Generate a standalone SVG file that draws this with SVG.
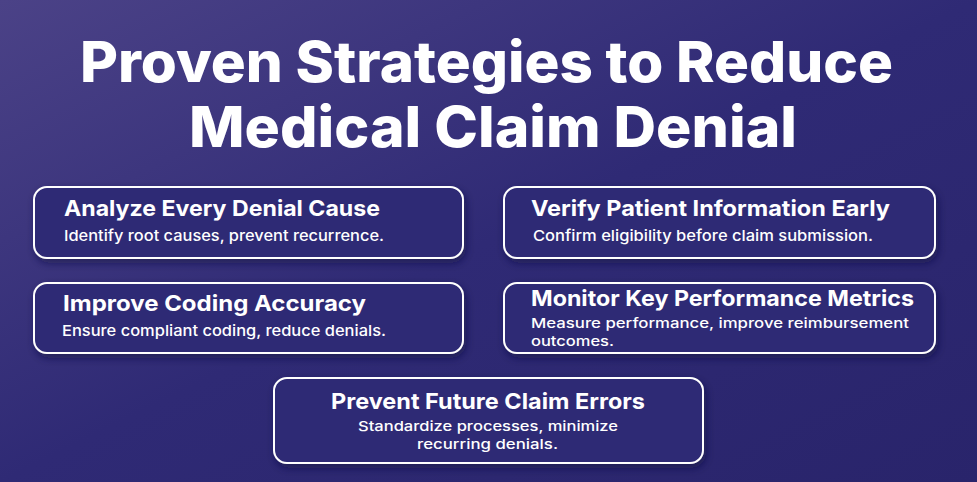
<svg xmlns="http://www.w3.org/2000/svg" width="977" height="482" viewBox="0 0 977 482">
<defs>
<linearGradient id="bg" x1="0" y1="0" x2="1" y2="1">
<stop offset="0" stop-color="#4b4287"/>
<stop offset="0.5" stop-color="#2f2a75"/>
<stop offset="1" stop-color="#29246b"/>
</linearGradient>
<filter id="sh" x="-10%" y="-20%" width="120%" height="150%"><feDropShadow dx="2" dy="4" stdDeviation="4" flood-color="#15123f" flood-opacity="0.6"/></filter>
</defs>
<style>
.box{fill:#2e2974;stroke:#ffffff;stroke-width:2;filter:url(#sh)}
.t{font-family:Inter,"Open Sans",sans-serif;font-weight:700;fill:#fff;font-size:22px}
.s{font-family:Inter,"Open Sans",sans-serif;font-weight:500;fill:#fff;font-size:15px}
.s2{font-family:Inter,"Open Sans",sans-serif;font-weight:500;fill:#fff;font-size:13.5px}
.h{font-family:Inter,"Open Sans",sans-serif;font-weight:800;fill:#fff;font-size:56px}
</style>
<rect width="977" height="482" fill="url(#bg)"/>
<text class="h" x="80" y="82" textLength="813" lengthAdjust="spacingAndGlyphs">Proven Strategies to Reduce</text>
<text class="h" x="189" y="147" textLength="608" lengthAdjust="spacingAndGlyphs">Medical Claim Denial</text>
<g id="n1"><rect class="box" x="34" y="187" width="429" height="71" rx="13"/>
<text class="t" x="64" y="216" textLength="316" lengthAdjust="spacingAndGlyphs">Analyze Every Denial Cause</text>
<text class="s" x="64" y="241" textLength="320" lengthAdjust="spacingAndGlyphs">Identify root causes, prevent recurrence.</text></g>
<g id="n2"><rect class="box" x="504" y="187" width="431" height="71" rx="13"/>
<text class="t" x="531" y="216" textLength="359" lengthAdjust="spacingAndGlyphs">Verify Patient Information Early</text>
<text class="s" x="533" y="241" textLength="340" lengthAdjust="spacingAndGlyphs">Confirm eligibility before claim submission.</text></g>
<g id="n3"><rect class="box" x="34" y="283" width="429" height="70" rx="13"/>
<text class="t" x="63" y="311" textLength="303" lengthAdjust="spacingAndGlyphs">Improve Coding Accuracy</text>
<text class="s" x="62" y="336" textLength="324" lengthAdjust="spacingAndGlyphs">Ensure compliant coding, reduce denials.</text></g>
<g id="n4"><rect class="box" x="504" y="283" width="431" height="70" rx="13"/>
<text class="t" x="531" y="306" textLength="383" lengthAdjust="spacingAndGlyphs">Monitor Key Performance Metrics</text>
<text class="s2" x="531" y="328" textLength="378" lengthAdjust="spacingAndGlyphs">Measure performance, improve reimbursement</text>
<text class="s2" x="531" y="346" textLength="83" lengthAdjust="spacingAndGlyphs">outcomes.</text></g>
<g id="n5"><rect class="box" x="274" y="378" width="429" height="85" rx="13"/>
<text class="t" x="331" y="409" textLength="314" lengthAdjust="spacingAndGlyphs">Prevent Future Claim Errors</text>
<text class="s2" x="358" y="431" textLength="260" lengthAdjust="spacingAndGlyphs">Standardize processes, minimize</text>
<text class="s2" x="417" y="449" textLength="141" lengthAdjust="spacingAndGlyphs">recurring denials.</text></g>
<g id="connectors"/>
</svg>
